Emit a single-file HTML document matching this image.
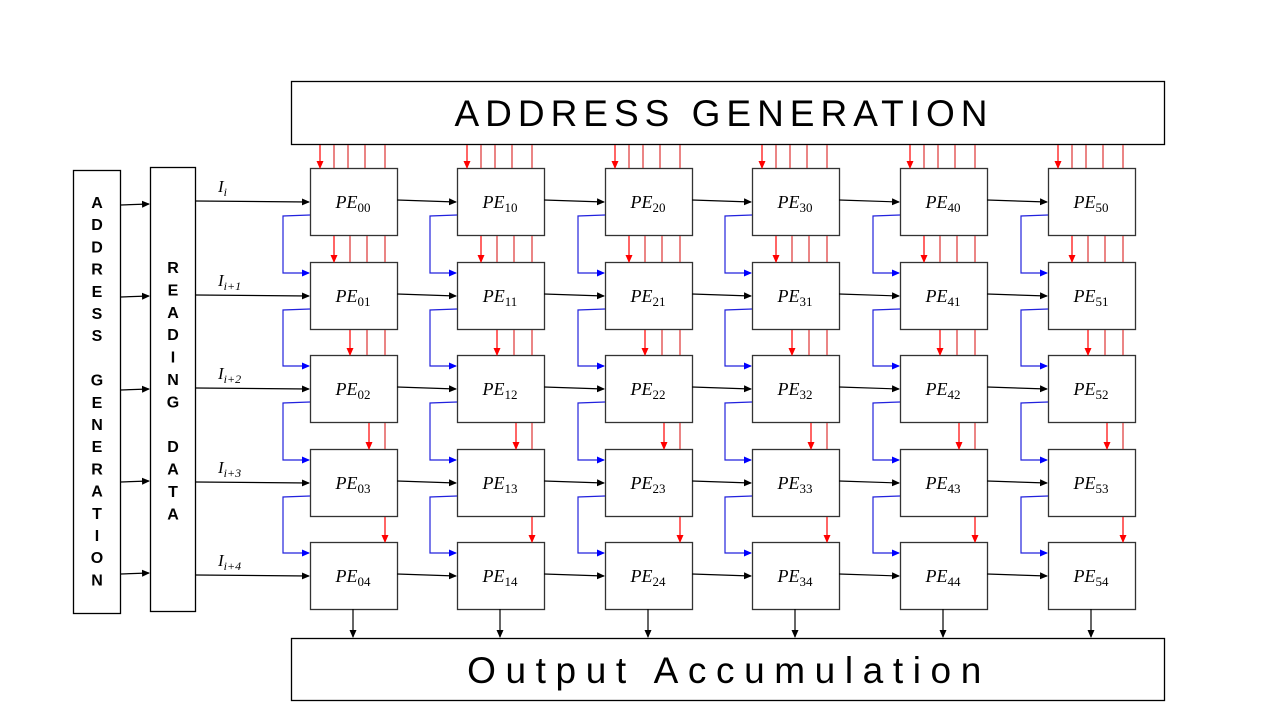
<!DOCTYPE html>
<html><head><meta charset="utf-8"><style>body{margin:0;background:#fff}svg{display:block}</style></head><body>
<svg width="1280" height="720" viewBox="0 0 1280 720" xmlns="http://www.w3.org/2000/svg">
<defs>
<marker id="ak" markerWidth="8" markerHeight="8" refX="7" refY="4" orient="auto" markerUnits="userSpaceOnUse"><path d="M0,0.5 L8,4 L0,7.5z" fill="#000"/></marker>
<marker id="ar" markerWidth="8" markerHeight="8" refX="7" refY="4" orient="auto" markerUnits="userSpaceOnUse"><path d="M0,0.5 L8,4 L0,7.5z" fill="#f00"/></marker>
<marker id="ab" markerWidth="8" markerHeight="8" refX="7" refY="4" orient="auto" markerUnits="userSpaceOnUse"><path d="M0,0.5 L8,4 L0,7.5z" fill="#00f"/></marker>
</defs>
<rect x="291.5" y="81.5" width="873" height="63" fill="none" stroke="#000" stroke-width="1.3"/>
<text x="724" y="126" font-family="Liberation Sans, sans-serif" font-size="37" text-anchor="middle" letter-spacing="6">ADDRESS GENERATION</text>
<rect x="291.5" y="638.5" width="873" height="62" fill="none" stroke="#000" stroke-width="1.3"/>
<text x="729" y="683" font-family="Liberation Sans, sans-serif" font-size="37" text-anchor="middle" letter-spacing="9.6">Output Accumulation</text>
<rect x="73.5" y="170.5" width="47" height="443" fill="none" stroke="#000" stroke-width="1.3"/>
<rect x="150.5" y="167.5" width="45" height="444" fill="none" stroke="#000" stroke-width="1.3"/>
<g font-family="Liberation Sans, sans-serif" font-weight="bold" font-size="16" text-anchor="middle" id="lt"></g>
<g id="g"></g>
</svg>
<script>
var NS="http://www.w3.org/2000/svg";
function el(t,a,p,txt){var e=document.createElementNS(NS,t);for(var k in a)if(a[k]!=null)e.setAttribute(k,a[k]);if(txt!=null)e.textContent=txt;(p||document.getElementById('g')).appendChild(e);return e;}
var lt=document.getElementById('lt');
"ADDRESS GENERATION".split("").forEach(function(c,i){if(c!=" ")el('text',{x:97,y:208+i*22.2},lt,c);});
"READING DATA".split("").forEach(function(c,i){if(c!=" ")el('text',{x:173,y:273+i*22.4},lt,c);});
var cols=[310,457,605,752,900,1048],rows=[168,262,355,449,542],W=87,H=67;
var ys=[205,297,390,482,574];
ys.forEach(function(y){el('line',{x1:121,y1:y,x2:149,y2:y-1,stroke:'#000','stroke-width':1.2,'marker-end':'url(#ak)'});});
var labs=["i","i+1","i+2","i+3","i+4"];
rows.forEach(function(t,r){
 var my=t+34;
 el('line',{x1:196,y1:my-1,x2:309,y2:my,stroke:'#000','stroke-width':1.2,'marker-end':'url(#ak)'});
 var tx=el('text',{x:218,y:my-10,'font-family':'Liberation Serif, serif','font-style':'italic','font-size':17});
 el('tspan',{},tx,'I');el('tspan',{'font-size':12,dy:4},tx,labs[r]);
});
var sets=[[10,24,38,55,75],[24,40,57,75],[40,57,75],[59,75],[75]];
cols.forEach(function(x,c){
 rows.forEach(function(t,r){
  el('rect',{x:x+.5,y:t+.5,width:W,height:H,fill:'#fff',stroke:'#333','stroke-width':1.3});
  var tx=el('text',{x:x+43,y:t+40,'font-family':'Liberation Serif, serif','font-style':'italic','font-size':18,'text-anchor':'middle'});
  el('tspan',{},tx,'PE');el('tspan',{'font-size':13,dy:4,'font-style':'normal'},tx,''+c+r);
  var y0=r==0?145:rows[r-1]+H+1;
  sets[r].forEach(function(o,i){el('line',{x1:x+o,y1:y0,x2:x+o,y2:t,stroke:i==0?'#f00':'#d33','stroke-width':1.2,'marker-end':i==0?'url(#ar)':null});});
  if(c<5)el('line',{x1:x+W,y1:t+32,x2:cols[c+1]-1,y2:t+34,stroke:'#000','stroke-width':1.2,'marker-end':'url(#ak)'});
  if(r<4)el('polyline',{points:(x)+','+(t+47)+' '+(x-27)+','+(t+48)+' '+(x-27)+','+(rows[r+1]+11)+' '+(x-1)+','+(rows[r+1]+11),fill:'none',stroke:'#2222dd','stroke-width':1.2,'marker-end':'url(#ab)'});
 });
 el('line',{x1:x+43,y1:rows[4]+H,x2:x+43,y2:637,stroke:'#000','stroke-width':1.2,'marker-end':'url(#ak)'});
});
</script>
</body></html>
